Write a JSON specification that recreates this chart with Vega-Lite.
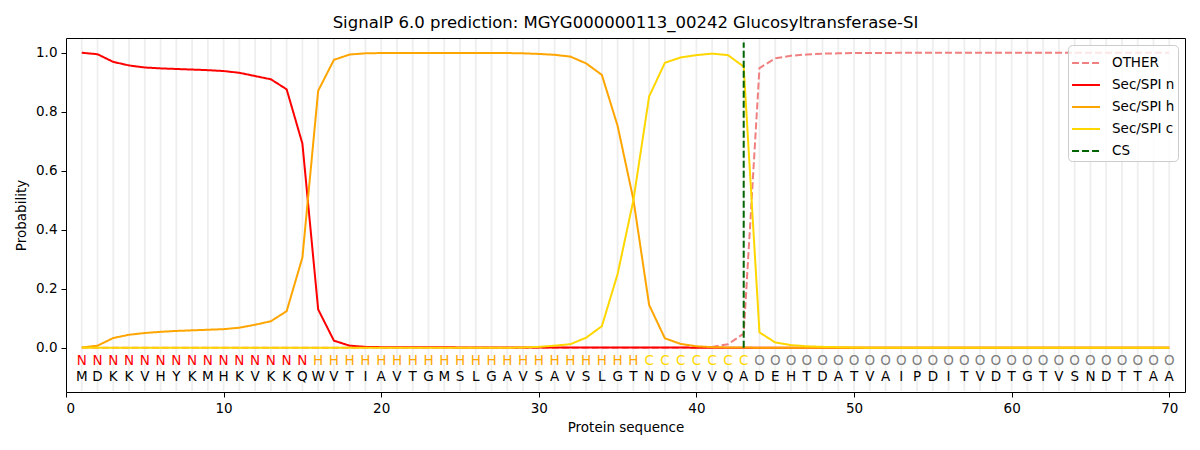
{
  "$schema": "https://vega.github.io/schema/vega-lite/v6.json",
  "width": 1119,
  "height": 354,
  "autosize": {"type": "none"},
  "padding": {"left": 66, "top": 38, "right": 15, "bottom": 58},
  "background": "white",
  "title": {
    "text": "SignalP 6.0 prediction: MGYG000000113_00242 Glucosyltransferase-SI",
    "font": "DejaVu Sans",
    "fontSize": 16.5,
    "fontWeight": "normal",
    "color": "black",
    "offset": 6
  },
  "config": {
    "font": "DejaVu Sans",
    "view": {"stroke": "black", "strokeWidth": 1},
    "axis": {
      "domain": false,
      "grid": false,
      "tickColor": "black",
      "tickSize": 5,
      "labelFont": "DejaVu Sans",
      "labelFontSize": 13.5,
      "labelColor": "black",
      "labelPadding": 4,
      "titleFont": "DejaVu Sans",
      "titleFontSize": 13.5,
      "titleFontWeight": "normal",
      "titleColor": "black"
    },
    "legend": {
      "orient": "top-right",
      "offset": 7,
      "padding": 3,
      "fillColor": "rgba(255,255,255,0.8)",
      "strokeColor": "#cccccc",
      "cornerRadius": 4,
      "labelFont": "DejaVu Sans",
      "labelFontSize": 13.5,
      "labelColor": "black",
      "labelOffset": 11,
      "symbolType": "stroke",
      "symbolStrokeWidth": 2,
      "symbolSize": 780,
      "rowPadding": 0
    }
  },
  "datasets": {
    "probs": [
      {"pos": 1, "aa": "M", "lab": "N", "other": 0.0, "n": 1.0, "h": 0.001, "c": 0.0},
      {"pos": 2, "aa": "D", "lab": "N", "other": 0.0, "n": 0.995, "h": 0.007, "c": 0.0},
      {"pos": 3, "aa": "K", "lab": "N", "other": 0.0, "n": 0.969, "h": 0.033, "c": 0.0},
      {"pos": 4, "aa": "K", "lab": "N", "other": 0.0, "n": 0.957, "h": 0.044, "c": 0.0},
      {"pos": 5, "aa": "V", "lab": "N", "other": 0.0, "n": 0.95, "h": 0.05, "c": 0.0},
      {"pos": 6, "aa": "H", "lab": "N", "other": 0.0, "n": 0.947, "h": 0.054, "c": 0.0},
      {"pos": 7, "aa": "Y", "lab": "N", "other": 0.0, "n": 0.945, "h": 0.057, "c": 0.0},
      {"pos": 8, "aa": "K", "lab": "N", "other": 0.0, "n": 0.943, "h": 0.059, "c": 0.0},
      {"pos": 9, "aa": "M", "lab": "N", "other": 0.0, "n": 0.941, "h": 0.061, "c": 0.0},
      {"pos": 10, "aa": "H", "lab": "N", "other": 0.0, "n": 0.938, "h": 0.063, "c": 0.0},
      {"pos": 11, "aa": "K", "lab": "N", "other": 0.0, "n": 0.932, "h": 0.068, "c": 0.0},
      {"pos": 12, "aa": "V", "lab": "N", "other": 0.0, "n": 0.921, "h": 0.078, "c": 0.0},
      {"pos": 13, "aa": "K", "lab": "N", "other": 0.0, "n": 0.91, "h": 0.09, "c": 0.0},
      {"pos": 14, "aa": "K", "lab": "N", "other": 0.0, "n": 0.876, "h": 0.124, "c": 0.0},
      {"pos": 15, "aa": "Q", "lab": "N", "other": 0.0, "n": 0.692, "h": 0.306, "c": 0.0},
      {"pos": 16, "aa": "W", "lab": "H", "other": 0.0, "n": 0.13, "h": 0.871, "c": 0.0},
      {"pos": 17, "aa": "V", "lab": "H", "other": 0.0, "n": 0.024, "h": 0.976, "c": 0.0},
      {"pos": 18, "aa": "T", "lab": "H", "other": 0.0, "n": 0.007, "h": 0.994, "c": 0.0},
      {"pos": 19, "aa": "I", "lab": "H", "other": 0.0, "n": 0.003, "h": 0.998, "c": 0.0},
      {"pos": 20, "aa": "A", "lab": "H", "other": 0.0, "n": 0.002, "h": 0.999, "c": 0.0},
      {"pos": 21, "aa": "V", "lab": "H", "other": 0.0, "n": 0.002, "h": 0.999, "c": 0.0},
      {"pos": 22, "aa": "T", "lab": "H", "other": 0.0, "n": 0.002, "h": 0.999, "c": 0.0},
      {"pos": 23, "aa": "G", "lab": "H", "other": 0.0, "n": 0.002, "h": 0.999, "c": 0.0},
      {"pos": 24, "aa": "M", "lab": "H", "other": 0.0, "n": 0.002, "h": 0.999, "c": 0.0},
      {"pos": 25, "aa": "S", "lab": "H", "other": 0.0, "n": 0.001, "h": 0.999, "c": 0.0},
      {"pos": 26, "aa": "L", "lab": "H", "other": 0.0, "n": 0.001, "h": 0.999, "c": 0.0},
      {"pos": 27, "aa": "G", "lab": "H", "other": 0.0, "n": 0.001, "h": 0.999, "c": 0.0},
      {"pos": 28, "aa": "A", "lab": "H", "other": 0.0, "n": 0.001, "h": 0.999, "c": 0.0},
      {"pos": 29, "aa": "V", "lab": "H", "other": 0.0, "n": 0.001, "h": 0.998, "c": 0.001},
      {"pos": 30, "aa": "S", "lab": "H", "other": 0.0, "n": 0.001, "h": 0.996, "c": 0.003},
      {"pos": 31, "aa": "A", "lab": "H", "other": 0.0, "n": 0.001, "h": 0.993, "c": 0.007},
      {"pos": 32, "aa": "V", "lab": "H", "other": 0.0, "n": 0.001, "h": 0.987, "c": 0.012},
      {"pos": 33, "aa": "S", "lab": "H", "other": 0.0, "n": 0.001, "h": 0.964, "c": 0.034},
      {"pos": 34, "aa": "L", "lab": "H", "other": 0.0, "n": 0.001, "h": 0.925, "c": 0.073},
      {"pos": 35, "aa": "G", "lab": "H", "other": 0.0, "n": 0.001, "h": 0.752, "c": 0.25},
      {"pos": 36, "aa": "T", "lab": "H", "other": 0.0, "n": 0.001, "h": 0.503, "c": 0.5},
      {"pos": 37, "aa": "N", "lab": "C", "other": 0.0, "n": 0.001, "h": 0.145, "c": 0.852},
      {"pos": 38, "aa": "D", "lab": "C", "other": 0.0, "n": 0.001, "h": 0.032, "c": 0.966},
      {"pos": 39, "aa": "G", "lab": "C", "other": 0.0, "n": 0.001, "h": 0.013, "c": 0.984},
      {"pos": 40, "aa": "V", "lab": "C", "other": 0.001, "n": 0.0, "h": 0.005, "c": 0.992},
      {"pos": 41, "aa": "V", "lab": "C", "other": 0.003, "n": 0.0, "h": 0.002, "c": 0.997},
      {"pos": 42, "aa": "Q", "lab": "C", "other": 0.012, "n": 0.0, "h": 0.001, "c": 0.992},
      {"pos": 43, "aa": "A", "lab": "C", "other": 0.048, "n": 0.0, "h": 0.001, "c": 0.953},
      {"pos": 44, "aa": "D", "lab": "O", "other": 0.948, "n": 0.0, "h": 0.0, "c": 0.052},
      {"pos": 45, "aa": "E", "lab": "O", "other": 0.981, "n": 0.0, "h": 0.0, "c": 0.018},
      {"pos": 46, "aa": "H", "lab": "O", "other": 0.99, "n": 0.0, "h": 0.0, "c": 0.009},
      {"pos": 47, "aa": "T", "lab": "O", "other": 0.994, "n": 0.0, "h": 0.0, "c": 0.005},
      {"pos": 48, "aa": "D", "lab": "O", "other": 0.997, "n": 0.0, "h": 0.0, "c": 0.003},
      {"pos": 49, "aa": "A", "lab": "O", "other": 0.998, "n": 0.0, "h": 0.0, "c": 0.002},
      {"pos": 50, "aa": "T", "lab": "O", "other": 0.999, "n": 0.0, "h": 0.0, "c": 0.001},
      {"pos": 51, "aa": "V", "lab": "O", "other": 0.999, "n": 0.0, "h": 0.0, "c": 0.0},
      {"pos": 52, "aa": "A", "lab": "O", "other": 0.999, "n": 0.0, "h": 0.0, "c": 0.0},
      {"pos": 53, "aa": "I", "lab": "O", "other": 1.0, "n": 0.0, "h": 0.0, "c": 0.0},
      {"pos": 54, "aa": "P", "lab": "O", "other": 1.0, "n": 0.0, "h": 0.0, "c": 0.0},
      {"pos": 55, "aa": "D", "lab": "O", "other": 1.0, "n": 0.0, "h": 0.0, "c": 0.0},
      {"pos": 56, "aa": "I", "lab": "O", "other": 1.0, "n": 0.0, "h": 0.0, "c": 0.0},
      {"pos": 57, "aa": "T", "lab": "O", "other": 1.0, "n": 0.0, "h": 0.0, "c": 0.0},
      {"pos": 58, "aa": "V", "lab": "O", "other": 1.0, "n": 0.0, "h": 0.0, "c": 0.0},
      {"pos": 59, "aa": "D", "lab": "O", "other": 1.0, "n": 0.0, "h": 0.0, "c": 0.0},
      {"pos": 60, "aa": "T", "lab": "O", "other": 1.0, "n": 0.0, "h": 0.0, "c": 0.0},
      {"pos": 61, "aa": "G", "lab": "O", "other": 1.0, "n": 0.0, "h": 0.0, "c": 0.0},
      {"pos": 62, "aa": "T", "lab": "O", "other": 1.0, "n": 0.0, "h": 0.0, "c": 0.0},
      {"pos": 63, "aa": "V", "lab": "O", "other": 1.0, "n": 0.0, "h": 0.0, "c": 0.0},
      {"pos": 64, "aa": "S", "lab": "O", "other": 1.0, "n": 0.0, "h": 0.0, "c": 0.0},
      {"pos": 65, "aa": "N", "lab": "O", "other": 1.0, "n": 0.0, "h": 0.0, "c": 0.0},
      {"pos": 66, "aa": "D", "lab": "O", "other": 1.0, "n": 0.0, "h": 0.0, "c": 0.0},
      {"pos": 67, "aa": "T", "lab": "O", "other": 1.0, "n": 0.0, "h": 0.0, "c": 0.0},
      {"pos": 68, "aa": "T", "lab": "O", "other": 1.0, "n": 0.0, "h": 0.0, "c": 0.0},
      {"pos": 69, "aa": "A", "lab": "O", "other": 1.0, "n": 0.0, "h": 0.0, "c": 0.0},
      {"pos": 70, "aa": "A", "lab": "O", "other": 1.0, "n": 0.0, "h": 0.0, "c": 0.0}
    ],
    "cleavage": [
      {"pos": 43, "series": "cs"}
    ]
  },
  "encoding": {
    "x": {
      "field": "pos",
      "type": "quantitative",
      "scale": {"domain": [0, 71], "nice": false, "zero": false},
      "axis": {"title": "Protein sequence", "values": [0, 10, 20, 30, 40, 50, 60, 70], "titlePadding": 6}
    }
  },
  "layer": [
    {
      "data": {"name": "probs"},
      "mark": {"type": "rule", "color": "#eeeeee", "strokeWidth": 1.8},
      "encoding": {
        "y": {"datum": -0.147, "type": "quantitative"},
        "y2": {"datum": 1.047}
      }
    },
    {
      "data": {"name": "probs"},
      "transform": [{"fold": ["other", "n", "h", "c"], "as": ["series", "p"]}],
      "mark": {"type": "line", "strokeWidth": 2},
      "encoding": {
        "y": {
          "field": "p",
          "type": "quantitative",
          "scale": {"domain": [-0.15, 1.05], "nice": false, "zero": false},
          "axis": {"title": "Probability", "values": [0, 0.2, 0.4, 0.6, 0.8, 1.0], "format": ".1f", "titlePadding": 7}
        },
        "color": {
          "field": "series",
          "type": "nominal",
          "scale": {
            "domain": ["other", "n", "h", "c", "cs"],
            "range": ["#f08080", "#ff0000", "#ffa500", "#ffd700", "#006400"]
          },
          "legend": {
            "title": null,
            "labelExpr": "{'other': 'OTHER', 'n': 'Sec/SPI n', 'h': 'Sec/SPI h', 'c': 'Sec/SPI c', 'cs': 'CS'}[datum.label]"
          }
        },
        "strokeDash": {
          "field": "series",
          "type": "nominal",
          "scale": {
            "domain": ["other", "n", "h", "c", "cs"],
            "range": [[7, 3], [1, 0], [1, 0], [1, 0], [7, 3]]
          },
          "legend": {
            "title": null,
            "labelExpr": "{'other': 'OTHER', 'n': 'Sec/SPI n', 'h': 'Sec/SPI h', 'c': 'Sec/SPI c', 'cs': 'CS'}[datum.label]"
          }
        }
      }
    },
    {
      "data": {"name": "cleavage"},
      "mark": {"type": "rule", "strokeWidth": 2},
      "encoding": {
        "y": {"datum": 0, "type": "quantitative"},
        "y2": {"datum": 1.035},
        "color": {"field": "series", "type": "nominal"},
        "strokeDash": {"field": "series", "type": "nominal"}
      }
    },
    {
      "data": {"name": "probs"},
      "mark": {"type": "text", "fontSize": 13.5, "font": "DejaVu Sans", "baseline": "middle", "align": "center"},
      "encoding": {
        "y": {"datum": -0.046, "type": "quantitative"},
        "text": {"field": "lab"},
        "color": {
          "condition": [
            {"test": "datum.lab === 'N'", "value": "#ff0000"},
            {"test": "datum.lab === 'H'", "value": "#ffa500"},
            {"test": "datum.lab === 'C'", "value": "#ffd700"}
          ],
          "value": "#808080"
        }
      }
    },
    {
      "data": {"name": "probs"},
      "mark": {"type": "text", "fontSize": 13.5, "font": "DejaVu Sans", "baseline": "middle", "align": "center", "color": "black"},
      "encoding": {
        "y": {"datum": -0.098, "type": "quantitative"},
        "text": {"field": "aa"}
      }
    }
  ]
}
